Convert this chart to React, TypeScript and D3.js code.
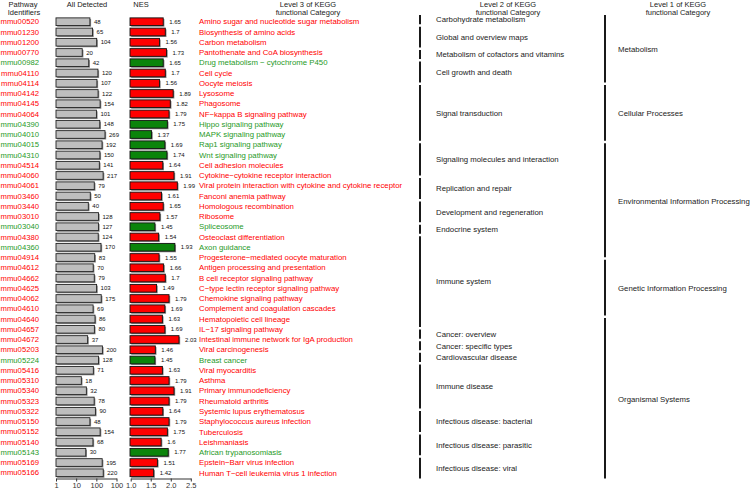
import { useEffect, useRef } from 'react';
import * as d3 from 'd3';

const pathwayIds = [
  'mmu00520', 'mmu01230', 'mmu01200', 'mmu00770', 'mmu00982', 'mmu04110', 'mmu04114', 'mmu04142', 'mmu04145',
  'mmu04064', 'mmu04390', 'mmu04010', 'mmu04015', 'mmu04310', 'mmu04514', 'mmu04060', 'mmu04061', 'mmu03460',
  'mmu03440', 'mmu03010', 'mmu03040', 'mmu04380', 'mmu04360', 'mmu04914', 'mmu04612', 'mmu04662', 'mmu04625',
  'mmu04062', 'mmu04610', 'mmu04640', 'mmu04657', 'mmu04672', 'mmu05203', 'mmu05224', 'mmu05416', 'mmu05310',
  'mmu05340', 'mmu05323', 'mmu05322', 'mmu05150', 'mmu05152', 'mmu05140', 'mmu05143', 'mmu05169', 'mmu05166',
];

const level3Names = [
  'Amino sugar and nucleotide sugar metabolism', 'Biosynthesis of amino acids', 'Carbon metabolism',
  'Pantothenate and CoA biosynthesis', 'Drug metabolism \u2212 cytochrome P450', 'Cell cycle', 'Oocyte meiosis',
  'Lysosome', 'Phagosome', 'NF\u2212kappa B signaling pathway', 'Hippo signaling pathway', 'MAPK signaling pathway',
  'Rap1 signaling pathway', 'Wnt signaling pathway', 'Cell adhesion molecules',
  'Cytokine\u2212cytokine receptor interaction', 'Viral protein interaction with cytokine and cytokine receptor',
  'Fanconi anemia pathway', 'Homologous recombination', 'Ribosome', 'Spliceosome', 'Osteoclast differentiation',
  'Axon guidance', 'Progesterone\u2212mediated oocyte maturation', 'Antigen processing and presentation',
  'B cell receptor signaling pathway', 'C\u2212type lectin receptor signaling pathway', 'Chemokine signaling pathway',
  'Complement and coagulation cascades', 'Hematopoietic cell lineage', 'IL\u221217 signaling pathway',
  'Intestinal immune network for IgA production', 'Viral carcinogenesis', 'Breast cancer', 'Viral myocarditis',
  'Asthma', 'Primary immunodeficiency', 'Rheumatoid arthritis', 'Systemic lupus erythematosus',
  'Staphylococcus aureus infection', 'Tuberculosis', 'Leishmaniasis', 'African trypanosomiasis',
  'Epstein\u2212Barr virus infection', 'Human T\u2212cell leukemia virus 1 infection',
];

const allDetected = [
  48, 65, 104, 20, 42, 120, 107, 122, 154, 101, 148, 269, 192, 150, 141, 217, 79, 50, 40, 128, 127, 124, 170,
  83, 70, 79, 103, 175, 69, 86, 80, 37, 200, 128, 71, 18, 32, 78, 90, 48, 154, 68, 30, 195, 220,
];

const nesValues = [
  1.65, 1.7, 1.56, 1.73, 1.65, 1.7, 1.56, 1.89, 1.82, 1.79, 1.75, 1.37, 1.69, 1.74, 1.64, 1.91, 1.99, 1.61,
  1.65, 1.57, 1.45, 1.54, 1.93, 1.55, 1.66, 1.7, 1.49, 1.79, 1.69, 1.63, 1.69, 2.03, 1.46, 1.45, 1.63, 1.79,
  1.91, 1.79, 1.64, 1.79, 1.75, 1.6, 1.77, 1.51, 1.42,
];

// pathways drawn in green (the rest are red)
const greenIds = ['mmu00982', 'mmu04390', 'mmu04010', 'mmu04015', 'mmu04310', 'mmu03040', 'mmu04360', 'mmu05224', 'mmu05143'];

const level2Names = [
  'Carbohydrate metabolism', 'Global and overview maps', 'Metabolism of cofactors and vitamins',
  'Cell growth and death', 'Signal transduction', 'Signaling molecules and interaction', 'Replication and repair',
  'Development and regeneration', 'Endocrine system', 'Immune system', 'Cancer: overview',
  'Cancer: specific types', 'Cardiovascular disease', 'Immune disease', 'Infectious disease: bacterial',
  'Infectious disease: parasitic', 'Infectious disease: viral',
];
const level2Counts = [1, 2, 1, 2, 5, 3, 2, 2, 1, 8, 1, 1, 1, 4, 2, 2, 2];

const level1Names = ['Metabolism', 'Cellular Processes', 'Environmental Information Processing', 'Genetic Information Processing', 'Organismal Systems'];
const level1Counts = [6, 5, 10, 5, 14];

const detectedTicks = [1, 10, 100, 1000];
const detectedTickLabels = ['1', '10', '100', '100'];
const nesTicks = [1.0, 1.5, 2.0, 2.5];

const RED = '#ff0000';
const GREEN = '#1f9a1f';
const GREEN_BAR = '#0b840b';
const FONT = '"Liberation Sans", Arial, sans-serif';

const withStarts = (counts: number[]) => {
  let acc = 0;
  return counts.map(c => {
    const s = acc;
    acc += c;
    return [s, acc];
  });
};

const App = () => {
  const axisRef = useRef<SVGGElement>(null);
  const width = 752;
  const height = 489;

  const y = d3.scaleBand<string>().domain(pathwayIds).range([16.6, 477.9]).paddingInner(0.25).paddingOuter(0.125);
  const xDet = d3.scaleLog().domain([1, 1000]).range([56, 116.5]);
  const xNes = d3.scaleLinear().domain([0.85, 2.5]).range([130, 198.5]);
  const xNesAxis = d3.scaleLinear().domain([1, 2.5]).range([130.7, 190.8]);
  const yGroup = d3.scaleLinear().domain([0, 40]).range([13, 479]);

  useEffect(() => {
    const g = d3.select(axisRef.current);
    g.selectAll('*').remove();

    const a1 = g.append('g').attr('transform', 'translate(0,478.5)')
      .call(d3.axisBottom(xDet).tickValues(detectedTicks).tickFormat((d, i) => detectedTickLabels[i]).tickSize(3).tickSizeOuter(0).tickPadding(1));
    const a2 = g.append('g').attr('transform', 'translate(0,478.5)')
      .call(d3.axisBottom(xNesAxis).tickValues(nesTicks).tickFormat(d3.format('.1f')).tickSize(3).tickSizeOuter(0).tickPadding(1));
    [a1, a2].forEach(a => {
      a.selectAll('text').style('font-size', '7.5px').style('font-family', FONT).attr('fill', '#333');
      a.selectAll('line').attr('stroke', '#333');
      a.select('.domain').attr('stroke', '#333');
    });
  }, []);

  const l2 = withStarts(level2Counts);
  const l1 = withStarts(level1Counts);
  const bw = y.bandwidth();

  return (
    <svg width={width} height={height} style={{ position: 'fixed', left: 0, top: 0, background: '#fff' }} fontFamily={FONT}>
      {/* headers */}
      <g fontSize={7.5} textAnchor="middle" fill="#222">
        <text x={23} y={7}>Pathway</text>
        <text x={24} y={14.5}>Identifiers</text>
        <text x={87} y={7}>All Detected</text>
        <text x={141} y={7}>NES</text>
        <text x={308} y={7}>Level 3 of KEGG</text>
        <text x={308} y={14.5}>functional Category</text>
        <text x={508} y={7}>Level 2 of KEGG</text>
        <text x={508} y={14.5}>functional Category</text>
        <text x={678} y={7}>Level 1 of KEGG</text>
        <text x={678} y={14.5}>functional Category</text>
      </g>

      {pathwayIds.map((id, i) => {
        const green = greenIds.includes(id);
        const cy = (y(id) ?? 0) + bw / 2;
        const yt = y(id) ?? 0;
        const dEnd = xDet(allDetected[i]);
        const nEnd = xNes(nesValues[i]);
        return (
          <g key={id}>
            <text x={39} y={cy} dy="0.35em" textAnchor="end" fontSize={7.7} fill={green ? GREEN : RED}>{id}</text>
            <rect x={xDet(1) + 1.2} y={yt + 1.2} width={dEnd - xDet(1)} height={bw} fill="#8a8a8a" />
            <rect x={xDet(1)} y={yt} width={dEnd - xDet(1)} height={bw} fill="#bebebe" stroke="#222" strokeWidth={0.9} />
            <text x={dEnd + 4} y={cy} dy="0.35em" fontSize={6} fill="#111">{allDetected[i]}</text>
            <rect x={xNes(0.85) + 1.2} y={yt + 1.2} width={nEnd - xNes(0.85)} height={bw} fill="#8a8a8a" />
            <rect x={xNes(0.85)} y={yt} width={nEnd - xNes(0.85)} height={bw} fill={green ? GREEN_BAR : RED} stroke="#111" strokeWidth={0.9} />
            <text x={nEnd + 6} y={cy} dy="0.35em" fontSize={6} fill="#111">{nesValues[i]}</text>
            <text x={199} y={cy} dy="0.35em" fontSize={7.8} fill={green ? GREEN : RED}>{level3Names[i]}</text>
          </g>
        );
      })}

      {level2Names.map((name, i) => {
        const [s, e] = l2[i];
        return (
          <g key={name}>
            <line x1={420} x2={420} y1={yGroup(s) + 2} y2={yGroup(e) - 0.5} stroke="#000" strokeWidth={1.8} />
            <text x={436} y={(yGroup(s) + yGroup(e)) / 2 + 0.8} dy="0.35em" fontSize={7.8} fill="#222">{name}</text>
          </g>
        );
      })}

      {level1Names.map((name, i) => {
        const [s, e] = l1[i];
        return (
          <g key={name}>
            <line x1={605} x2={605} y1={yGroup(s) + 2} y2={yGroup(e) - 0.5} stroke="#000" strokeWidth={1.8} />
            <text x={618} y={(yGroup(s) + yGroup(e)) / 2 + 1.5} dy="0.35em" fontSize={7.8} fill="#222">{name}</text>
          </g>
        );
      })}

      <g ref={axisRef} />
    </svg>
  );
};

export default App;
